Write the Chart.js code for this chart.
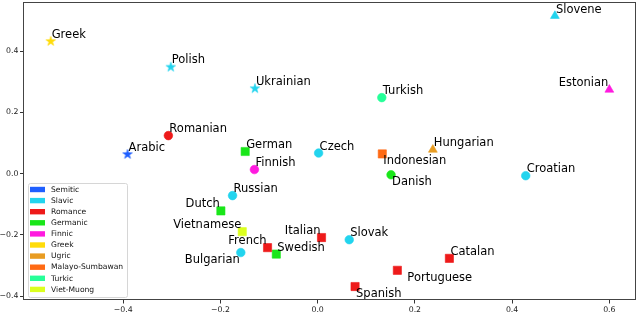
<!DOCTYPE html>
<html>
<head>
<meta charset="utf-8">
<script src="https://cdn.jsdelivr.net/npm/chart.js@4"></script>
<style>
html,body{margin:0;padding:0;background:#fff;}
#wrap{width:640px;height:312px;overflow:hidden;position:relative;}
#c{position:absolute;left:0;top:-4px;}
</style>
</head>
<body>
<div id="wrap"><canvas id="c" width="642" height="316"></canvas></div>
<script>
// ---- data ----
const families = ["Semitic","Slavic","Romance","Germanic","Finnic","Greek","Ugric","Malayo-Sumbawan","Turkic","Viet-Muong"];
const familyColors = ["#1f5fff","#22d4ee","#ee1a1a","#19e619","#ff1adf","#ffdc0a","#e89c22","#ff6a14","#26ff99","#dcff1e"];

const languages = ["Greek","Polish","Romanian","Arabic","Ukrainian","Turkish","German","Czech","Indonesian","Slovene","Estonian","Hungarian","Finnish","Danish","Russian","Dutch","Vietnamese","Italian","Slovak","French","Swedish","Bulgarian","Portuguese","Spanish","Croatian","Catalan"];
const xValues = [-0.549,-0.302,-0.307,-0.391,-0.129,0.132,-0.149,0.002,0.133,0.488,0.600,0.237,-0.130,0.151,-0.175,-0.199,-0.155,0.008,0.065,-0.103,-0.085,-0.158,0.164,0.077,0.428,0.271];
const yValues = [0.433,0.349,0.124,0.064,0.279,0.248,0.072,0.067,0.064,0.515,0.274,0.078,0.013,-0.004,-0.072,-0.122,-0.190,-0.209,-0.216,-0.242,-0.263,-0.258,-0.316,-0.369,-0.007,-0.277];
const langFamily = ["Greek","Slavic","Romance","Semitic","Slavic","Turkic","Germanic","Slavic","Malayo-Sumbawan","Slavic","Finnic","Ugric","Finnic","Germanic","Slavic","Germanic","Viet-Muong","Romance","Slavic","Romance","Germanic","Slavic","Romance","Romance","Slavic","Romance"];
const markers = ["star","star","circle","star","star","circle","rect","circle","rect","triangle","triangle","triangle","circle","circle","circle","rect","rect","rect","circle","rect","rect","circle","rect","rect","circle","rect"];
const labelSide = ["ur","ur","ur","ur","ur","ur","ur","ur","dr","ur","ul","ur","ur","dr","ur","ul","ul","ul","ur","ul","ur","dl","drw","dr","ur","ur"];

const xTicks = [-0.4,-0.2,0.0,0.2,0.4,0.6];
const yTicks = [-0.4,-0.2,0.0,0.2,0.4];

// ---- helpers ----
function makeStar(color, R){
  const s = Math.ceil(2*R+2);
  const c = document.createElement('canvas');
  c.width = s; c.height = s;
  const g = c.getContext('2d');
  const cx = s/2, cy = s/2 + 0.4, r = R*0.382;
  g.beginPath();
  for(let i=0;i<10;i++){
    const rad = (i%2===0)?R:r;
    const a = -Math.PI/2 + i*Math.PI/5;
    const px = cx + rad*Math.cos(a), py = cy + rad*Math.sin(a);
    if(i===0) g.moveTo(px,py); else g.lineTo(px,py);
  }
  g.closePath();
  g.fillStyle = color; g.fill();
  g.strokeStyle = color; g.lineWidth = 0.6; g.stroke();
  return c;
}
const markerRadius = {circle:4.3, rect:5.8, triangle:5.1, star:5};

const datasets = families.map((fam, fi) => {
  const idx = languages.map((_, i) => i).filter(i => langFamily[i] === fam);
  const col = familyColors[fi];
  const star = makeStar(col, 5.0);
  return {
    label: fam,
    data: idx.map(i => ({x: xValues[i], y: yValues[i], name: languages[i], side: labelSide[i]})),
    pointStyle: idx.map(i => markers[i] === 'star' ? star : markers[i]),
    pointRadius: idx.map(i => markerRadius[markers[i]]),
    pointHoverRadius: idx.map(i => markerRadius[markers[i]]),
    backgroundColor: col,
    borderColor: col,
    borderWidth: 0.6
  };
});

const fmt = v => { const s = Math.abs(v).toFixed(1); return (v < -1e-9 ? '\u2212' : '') + s; };

const labelPlugin = {
  id: 'pointLabels',
  afterDatasetsDraw(chart){
    const ctx = chart.ctx;
    ctx.save();
    ctx.font = '11.5px "DejaVu Sans"';
    ctx.fillStyle = '#000';
    ctx.textBaseline = 'alphabetic';
    chart.data.datasets.forEach((ds, di) => {
      const meta = chart.getDatasetMeta(di);
      meta.data.forEach((pt, j) => {
        const d = ds.data[j];
        let dx = 1, dy = -3.3, align = 'left';
        if(d.side === 'ul'){ dx = -1; dy = -3.6; align = 'right'; }
        else if(d.side === 'dr'){ dx = 1; dy = 10.2; align = 'left'; }
        else if(d.side === 'dl'){ dx = -1; dy = 10.4; align = 'right'; }
        else if(d.side === 'drw'){ dx = 10; dy = 10.7; align = 'left'; }
        ctx.textAlign = align;
        ctx.fillText(d.name, pt.x + dx, pt.y + dy);
      });
    });
    ctx.restore();
  }
};

const framePlugin = {
  id: 'frame',
  afterDraw(chart){
    const a = chart.chartArea, ctx = chart.ctx;
    ctx.save();
    ctx.strokeStyle = '#444';
    ctx.lineWidth = 1;
    ctx.strokeRect(Math.round(a.left)+0.5, Math.round(a.top)+0.5, Math.round(a.right-a.left)-1, Math.round(a.bottom-a.top)-1);
    // legend
    const bx = a.left + 5, by = a.bottom - 117, bw = 99, bh = 114;
    ctx.fillStyle = 'rgba(255,255,255,0.8)';
    ctx.strokeStyle = '#d6d6d6';
    ctx.lineWidth = 1;
    ctx.beginPath();
    if (ctx.roundRect) ctx.roundRect(bx+0.5, by+0.5, bw, bh, 2); else ctx.rect(bx+0.5, by+0.5, bw, bh);
    ctx.fill(); ctx.stroke();
    ctx.font = '7.6px "DejaVu Sans"';
    ctx.textAlign = 'left';
    ctx.textBaseline = 'middle';
    families.forEach((f, i) => {
      const cy = by + 6.5 + i*11.1;
      ctx.fillStyle = familyColors[i];
      ctx.fillRect(bx + 2, cy - 2.7, 15, 5.4);
      ctx.fillStyle = '#111';
      ctx.fillText(f, bx + 23, cy + 0.3);
    });
    ctx.restore();
  }
};

new Chart(document.getElementById('c'), {
  type: 'scatter',
  data: { datasets },
  options: {
    responsive: false,
    animation: false,
    devicePixelRatio: 1,
    layout: { padding: { top: 1, right: 3, left: 0, bottom: 0 } },
    plugins: { legend: { display: false }, tooltip: { enabled: false } },
    scales: {
      x: {
        type: 'linear', min: -0.606, max: 0.654,
        afterBuildTicks: s => { s.ticks = xTicks.map(v => ({value: v})); },
        afterFit: s => { s.height = 12; },
        grid: { drawOnChartArea: false, drawTicks: true, tickLength: 3.5, color: '#333' },
        border: { display: false },
        ticks: { callback: v => fmt(v), font: { family: 'DejaVu Sans', size: 7.8 }, color: '#222', padding: 1.5, maxRotation: 0, autoSkip: false }
      },
      y: {
        type: 'linear', min: -0.413, max: 0.559,
        afterBuildTicks: s => { s.ticks = yTicks.map(v => ({value: v})); },
        afterFit: s => { s.width = 23; },
        grid: { drawOnChartArea: false, drawTicks: true, tickLength: 3, color: '#333' },
        border: { display: false },
        ticks: { callback: v => fmt(v), font: { family: 'DejaVu Sans', size: 7.8 }, color: '#222', padding: 1.5, autoSkip: false }
      }
    }
  },
  plugins: [labelPlugin, framePlugin]
});
</script>
</body>
</html>
